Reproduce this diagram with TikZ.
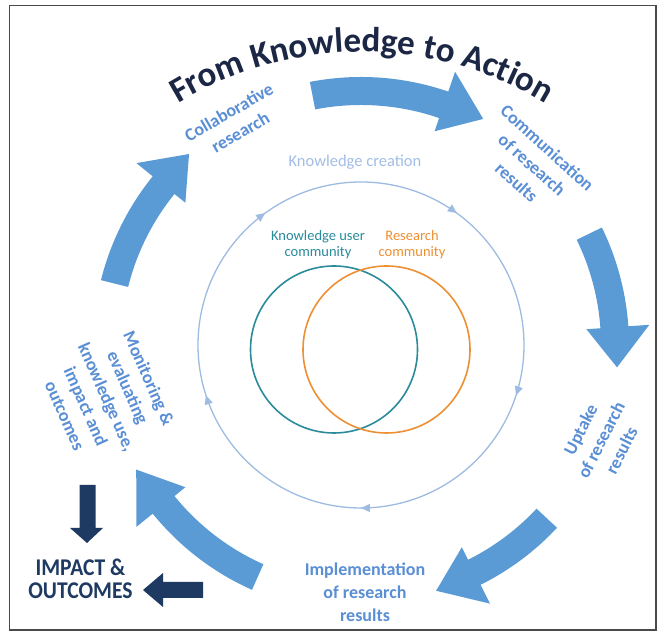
\documentclass[tikz,border=0pt]{standalone}
\usepackage{fontspec}
\setmainfont{Carlito}
\usetikzlibrary{decorations.text,decorations.markings,arrows.meta}
\definecolor{arrowblue}{HTML}{5B9BD5}
\definecolor{lblblue}{HTML}{5A8FD5}
\definecolor{ringblue}{HTML}{9EBBE2}
\definecolor{kcblue}{HTML}{A3BEE6}
\definecolor{impnavy}{HTML}{1E3A63}
\definecolor{titlenavy}{HTML}{1B2744}
\definecolor{venteal}{HTML}{2A8B9B}
\definecolor{venorange}{HTML}{EC9033}
\definecolor{framegray}{HTML}{4A4A4A}
\newcommand\ttlfont{\fontsize{35}{40}\selectfont\bfseries\color{titlenavy}}
\newcommand\cyclearrow[3]{%
  \fill[arrowblue] (#1:268pt) arc[start angle=#1, end angle=#2, radius=268pt]
    -- (#2:289pt) -- (#3:257pt) -- (#2:226pt) -- (#2:240pt)
    arc[start angle=#2, end angle=#1, radius=240pt] -- cycle;}
\begin{document}
\begin{tikzpicture}[x=1pt,y=1pt,
  lbl/.style={text=lblblue, font=\fontsize{18}{23}\selectfont\bfseries, align=center, inner sep=0pt},
  venn/.style={circle, draw, line width=1.6pt, minimum size=167pt, inner sep=0pt},
  vlbl/.style={font=\fontsize{14.5}{16}\selectfont, align=center, inner sep=0pt},
  navyarrow/.style={fill=impnavy}]
\useasboundingbox (0,0) rectangle (665,636);
\fill[white] (0,0) rectangle (665,636);
\draw[framegray, line width=1.6pt] (9.5,6) rectangle (656,630.5);

\coordinate (C) at (361,291);

% outer cycle of block arrows
\begin{scope}[shift={(C)}]
  \cyclearrow{101}{71}{61.6}
  \cyclearrow{26}{4}{-5}
  \cyclearrow{-43}{-63.5}{-73}
  \cyclearrow{-114}{-141}{-151}
  \cyclearrow{166}{141}{132}
\end{scope}

% inner knowledge creation ring
\draw[ringblue, line width=1.3pt, postaction={decorate},
  decoration={markings, mark=between positions 0.0278 and 0.95 step 0.2 with {\arrow{Triangle[length=9pt,width=8pt]}}}]
  (C) ++(136:163pt) arc[start angle=136, end angle=-224, radius=163pt];

% Venn circles
\node[venn, draw=venteal] (user) at (334,286.5) {};
\node[venn, draw=venorange] (res) at (386.5,286.5) {};
\node[vlbl, text=venteal] (userlbl) at (318,391) {Knowledge user\\community};
\node[vlbl, text=venorange] (reslbl) at (412,391) {Research\\community};

\node[text=kcblue, font=\fontsize{16.5}{20}\selectfont, inner sep=0pt] (kc) at (355,474) {Knowledge creation};

% title
\path[decorate, decoration={text along path, text={|\ttlfont|From Knowledge to Action}, text align=center}]
  (362,229) ++(125:355pt) arc[start angle=125, end angle=55, radius=355pt];

% stage labels
\node[lbl, rotate=30] (collab) at (234.5,514) {Collaborative\\research};
\node[lbl, rotate=-42] (comm) at (532,471) {Communication\\of research\\results};
\node[lbl, rotate=63] (uptake) at (601,196) {Uptake\\of research\\results};
\node[lbl] (impl) at (365,44) {Implementation\\of research\\results};
\node[lbl, rotate=-66] (monitor) at (107,239) {Monitoring \&\\evaluating\\knowledge use,\\impact and\\outcomes};

% impact and outcomes
\node[text=impnavy, font=\fontsize{24}{23}\selectfont\bfseries, align=center, inner sep=0pt] (impact) at (80.5,57)
  {\scalebox{0.9}[1]{IMPACT \&}\\\scalebox{0.9}[1]{OUTCOMES}};
\fill[navyarrow] (79.5,151) -- (95.5,151) -- (95.5,108) -- (103,108) -- (87,93) -- (70,108) -- (79.5,108) -- cycle;
\fill[navyarrow] (203,54) -- (203,38) -- (163,38) -- (163,29) -- (143,46) -- (163,63) -- (163,54) -- cycle;
\end{tikzpicture}
\end{document}
